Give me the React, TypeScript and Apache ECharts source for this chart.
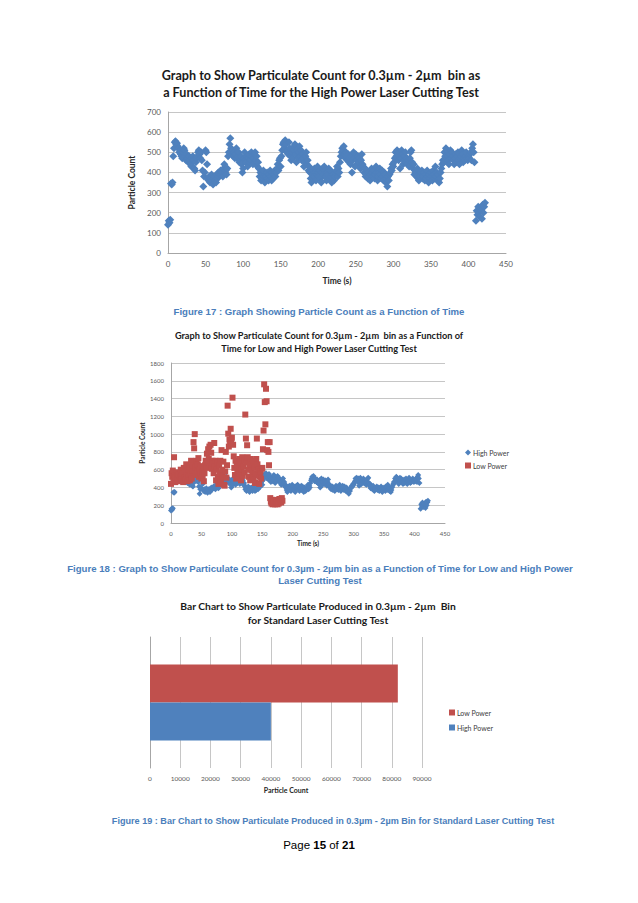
import React, { useEffect, useRef } from "react";
import * as echarts from "echarts";

// High power particle count, one reading per second from t = 0 s (null = no reading)
const highPower: (number | null)[] = [
  140, 160, 150, 165, 345, 340, 350, 480, 520, 550,
  555, 540, 545, 530, 520, 500, 510, 490, 480, 470,
  500, 520, 510, 480, 460, 490, 470, 450, 480, 460,
  440, 430, 470, 480, 460, 420, 410, 450, 470, 480,
  500, 510, 490, 470, 500, 460, 410, 330, 380, 400,
  510, 500, 440, 370, 360, 380, 350, 370, 390, 360,
  340, 370, 380, 360, 350, 390, 370, 400, 380, 390,
  410, 390, 400, 380, 420, 440, 400, 410, 390, 420,
  480, 500, 540, 570, 520, 490, 510, 480, 500, 470,
  490, 520, 470, 480, 500, 450, 460, 480, 440, 400,
  420, 470, 500, 460, 450, 480, 430, 470, 490, 450,
  460, 500, 480, 440, 470, 490, 500, 460, 480, 430,
  450, 420, 380, 400, 360, 390, 370, 410, 380, 350,
  390, 380, 400, 370, 360, 390, 410, 380, 360, 400,
  370, 390, 410, 380, 400, 420, 440, 410, 460, 470,
  430, 480, 510, 540, 550, 520, 560, 540, 500, 510,
  490, 550, 520, 480, 460, 500, 470, 510, 530, 540,
  490, 450, 510, 470, 500, 530, 480, 510, 460, 490,
  470, 430, 450, 480, 500, 440, 460, 410, 430, 400,
  370, 350, 390, 410, 380, 420, 400, 360, 390, 430,
  400, 380, 410, 370, 350, 400, 420, 390, 430, 410,
  380, 360, 400, 390, 420, 370, 410, 380, 350, 400,
  390, 360, 380, 400, 410, 430, 380, 420, 400, 450,
  480, 500, 520, 510, 530, 490, 470, 500, 480, 460,
  490, 450, 470, 440, 480, 400, 460, 500, 470, 430,
  490, 460, 440, 480, 450, 470, 420, 460, 490, 440,
  430, 400, 420, 380, 390, 410, 370, 400, 380, 360,
  390, 420, 400, 380, 410, 370, 390, 430, 400, 360,
  380, 400, 420, 390, 370, 410, 380, 360, 400, 390,
  350, 370, 330, 380, 360, 390, 400, 420, 410, 440,
  430, 450, 470, 500, 480, 510, 490, 460, 500, 420,
  470, 510, 490, 440, 460, 480, 500, 450, 470, 440,
  460, 430, 470, 500, 510, 450, 420, 440, 390, 410,
  400, 380, 420, 370, 360, 390, 380, 400, 410, 370,
  380, 400, 360, 390, 370, 410, 380, 350, 390, 370,
  400, 380, 360, 410, 390, 370, 430, 380, 400, 360,
  390, 350, 370, 400, 420, 440, 460, 450, 500, 480,
  520, 510, 480, 460, 440, 490, 510, 470, 500, 480,
  460, 440, 470, 490, 450, 480, 500, 460, 440, 470,
  480, 510, 490, 450, 470, 460, 480, 500, 470, 460,
  480, 470, 490, 500, 460, 520, 540, 500, 450, null,
  160, 210, 190, 230, 200, 180, 220, 210, 170, 240,
  200, 230, 250,
];

// Low power particle count, one reading per second from t = 0 s
const lowPower: number[] = [
  440, 560, 520, 590, 480, 740, 530, 460, 510, 570,
  500, 540, 480, 550, 470, 520, 600, 490, 530, 560,
  460, 620, 510, 580, 490, 660, 540, 470, 600, 520,
  640, 480, 560, 700, 500, 590, 650, 910, 840, 1000,
  620, 540, 700, 580, 660, 730, 520, 600, 560, 640,
  500, 580, 530, 620, 470, 560, 650, 700, 620, 780,
  680, 830, 720, 860, 640, 880, 790, 610, 700, 670,
  560, 900, 640, 700, 480, 600, 680, 520, 440, 650,
  560, 700, 460, 820, 600, 520, 690, 430, 420, 580,
  800, 510, 650, 1320, 1005, 860, 940, 910, 1060, 900,
  960, 1410, 880, 750, 620, 540, 700, 500, 660, 580,
  640, 520, 720, 560, 680, 480, 600, 740, 530, 640,
  700, 570, 1220, 950, 680, 875, 740, 600, 520, 650,
  480, 720, 590, 660, 540, 700, 510, 620, 450, 560,
  720, 950, 660, 540, 600, 440, 520, 580, 500, 610,
  620, 830, 1040, 1560, 1360, 1110, 1510, 1370, 820, 910,
  800, 650, 910, 280, 240, 220, 260, 210, 230, 250,
  220, 210, 240, 260, 230, 210, 250, 220, 270, 240,
  260, 230, 280, 250,
];

// Total particles for the standard laser cutting test
const barSeriesNames = ["Low Power", "High Power"];
const barTotals = [82000, 40000];
const barCategory = ["Standard"];

const chart1Title =
  "Graph to Show Particulate Count for 0.3µm - 2µm  bin as\na Function of Time for the High Power Laser Cutting Test";
const chart2Title =
  "Graph to Show Particulate Count for 0.3µm - 2µm  bin as a Function of\nTime for Low and High Power Laser Cutting Test";
const chart3Title =
  "Bar Chart to Show Particulate Produced in 0.3µm - 2µm  Bin\nfor Standard Laser Cutting Test";
const caption17 = "Figure 17 : Graph Showing Particle Count as a Function of Time";
const caption18 =
  "Figure 18 : Graph to Show Particulate Count for 0.3µm - 2µm bin as a Function of Time for Low and High Power\nLaser Cutting Test";
const caption19 =
  "Figure 19 : Bar Chart to Show Particulate Produced in 0.3µm - 2µm Bin for Standard Laser Cutting Test";

const BLUE = "#4f81bd";
const RED = "#c0504d";
const GRID = "#c6c6c6";
const AXIS = "#a6a6a6";
const LABEL = "#595959";
const CAPTION = "#4a7ebb";
const FONT = "Lato, 'Open Sans', sans-serif";
const CAPFONT = "'Liberation Sans', Arial, sans-serif";

export default function App() {
  const ref = useRef<HTMLDivElement>(null);
  useEffect(() => {
    if (!ref.current) return;
    const chart = echarts.init(ref.current, undefined, { renderer: "svg" });

    const highPts = highPower
      .map((v, i) => (v == null ? null : [i, v]))
      .filter((p) => p !== null) as number[][];
    const lowPts = lowPower.map((v, i) => [i, v]);
    const plain = (v: number) => String(v);

    const valueX = (grid: number, max: number, interval: number, fs: number, name: string, nameGap: number, split: boolean) => ({
      type: "value",
      gridIndex: grid,
      min: 0,
      max,
      interval,
      name,
      nameLocation: "middle",
      nameGap,
      nameTextStyle: { fontFamily: FONT, fontWeight: "bold", fontSize: fs + 0.5, color: "#262626" },
      axisLine: { show: !split, lineStyle: { color: AXIS, width: 1 } },
      axisTick: { show: false },
      axisLabel: { fontFamily: FONT, fontSize: fs, color: LABEL, margin: 7, formatter: plain },
      splitLine: { show: split, lineStyle: { color: GRID, width: 1 } },
    });
    const valueY = (grid: number, max: number, interval: number, fs: number, name: string, nameGap: number) => ({
      type: "value",
      gridIndex: grid,
      min: 0,
      max,
      interval,
      name,
      nameLocation: "middle",
      nameGap,
      nameRotate: 90,
      nameTextStyle: { fontFamily: FONT, fontWeight: "bold", fontSize: fs + 0.5, color: "#262626" },
      axisLine: { show: true, lineStyle: { color: AXIS, width: 1 } },
      axisTick: { show: false },
      axisLabel: { fontFamily: FONT, fontSize: fs, color: LABEL, margin: 7, formatter: plain },
      splitLine: { show: true, lineStyle: { color: GRID, width: 1 } },
    });

    const text = (x: number, y: number, t: string, font: string, color: string, lineHeight: number) => ({
      type: "text",
      x,
      y,
      style: { text: t, font, fill: color, align: "center", verticalAlign: "middle", lineHeight },
    });

    chart.setOption({
      animation: false,
      backgroundColor: "#ffffff",
      grid: [
        { left: 168, top: 112, width: 338, height: 141 },
        { left: 171, top: 363, width: 274, height: 160 },
        { left: 150, top: 637, width: 272, height: 131 },
      ],
      xAxis: [
        valueX(0, 450, 50, 8, "Time (s)", 23, false),
        valueX(1, 450, 50, 6, "Time (s)", 17, false),
        valueX(2, 90000, 10000, 6.5, "Particle Count", 18, true),
      ],
      yAxis: [
        valueY(0, 700, 100, 8, "Particle Count", 27),
        valueY(1, 1800, 200, 6, "Particle Count", 22),
        {
          type: "category",
          gridIndex: 2,
          data: barCategory,
          axisLine: { show: true, lineStyle: { color: AXIS, width: 1 } },
          axisTick: { show: false },
          axisLabel: { show: false },
        },
      ],
      legend: [
        {
          orient: "vertical",
          left: 460,
          top: 444,
          itemWidth: 6,
          itemHeight: 6,
          itemGap: 6,
          textStyle: { fontFamily: FONT, fontSize: 7, color: "#404040", padding: [0, 0, 0, -3] },
          data: [
            { name: "High Power", icon: "diamond" },
            { name: "Low Power", icon: "rect" },
          ],
        },
        {
          orient: "vertical",
          left: 444,
          top: 704,
          itemWidth: 6,
          itemHeight: 6,
          itemGap: 8,
          textStyle: { fontFamily: FONT, fontSize: 7, color: "#404040", padding: [0, 0, 0, -3] },
          data: [
            { name: "Low Power", icon: "rect" },
            { name: "High Power", icon: "rect" },
          ],
        },
      ],
      series: [
        {
          name: "High Power",
          type: "scatter",
          xAxisIndex: 0,
          yAxisIndex: 0,
          symbol: "diamond",
          symbolSize: 8,
          itemStyle: { color: BLUE, opacity: 1 },
          data: highPts,
        },
        {
          name: "High Power",
          type: "scatter",
          xAxisIndex: 1,
          yAxisIndex: 1,
          symbol: "diamond",
          symbolSize: 6,
          itemStyle: { color: BLUE, opacity: 1 },
          data: highPts,
        },
        {
          name: "Low Power",
          type: "scatter",
          xAxisIndex: 1,
          yAxisIndex: 1,
          symbol: "rect",
          symbolSize: 6,
          itemStyle: { color: RED, opacity: 1 },
          data: lowPts,
        },
        {
          name: barSeriesNames[0],
          type: "bar",
          xAxisIndex: 2,
          yAxisIndex: 2,
          barWidth: 38,
          barGap: "0%",
          itemStyle: { color: RED },
          data: [barTotals[0]],
        },
        {
          name: barSeriesNames[1],
          type: "bar",
          xAxisIndex: 2,
          yAxisIndex: 2,
          barWidth: 38,
          barGap: "0%",
          itemStyle: { color: BLUE },
          data: [barTotals[1]],
        },
      ],
      graphic: [
        text(321, 83.5, chart1Title, `bold 12.6px ${FONT}`, "#1a1a1a", 17),
        text(319, 311.5, caption17, `bold 9.6px ${CAPFONT}`, CAPTION, 12),
        text(319, 341.5, chart2Title, `bold 9.2px ${FONT}`, "#1a1a1a", 13),
        text(320, 574, caption18, `bold 9.6px ${CAPFONT}`, CAPTION, 12),
        text(318, 613, chart3Title, `bold 10.3px ${FONT}`, "#1a1a1a", 14),
        text(333, 821, caption19, `bold 9.1px ${CAPFONT}`, CAPTION, 12),
        {
          type: "text",
          x: 319,
          y: 845,
          style: {
            text: "{n|Page }{b|15}{n| of }{b|21}",
            align: "center",
            verticalAlign: "middle",
            rich: {
              n: { fontFamily: CAPFONT, fontSize: 11.5, color: "#000" },
              b: { fontFamily: CAPFONT, fontSize: 11.5, fontWeight: "bold", color: "#000" },
            },
          },
        },
      ],
    });
    return () => chart.dispose();
  }, []);
  return (
    <div
      ref={ref}
      style={{ position: "fixed", left: 0, top: 0, width: 638, height: 903, background: "#fff" }}
    />
  );
}
